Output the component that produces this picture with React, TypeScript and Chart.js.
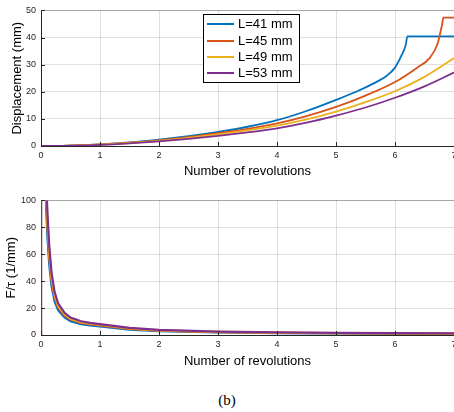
import React, { useEffect, useRef } from "react";
import { Chart, registerables } from "chart.js";
Chart.register(...registerables);

const seriesLabels = ["L=41 mm", "L=45 mm", "L=49 mm", "L=53 mm"];
const seriesColors = ["#0072BD", "#D95319", "#EDB120", "#7E2F8E"];

// Top panel: displacement (mm) vs number of revolutions
const dispX41 = [0, 0.5, 1, 1.5, 2, 2.5, 3, 3.5, 4, 4.5, 5, 5.35, 5.63, 5.86, 6, 6.11, 6.18, 6.21, 7];
const dispY41 = [0, 0.15, 0.6, 1.3, 2.3, 3.6, 5.2, 7.1, 9.5, 12.9, 17.0, 20.1, 23.0, 25.9, 28.9, 33.4, 37.1, 40.4, 40.4];
const dispX45 = [0, 0.5, 1, 1.5, 2, 2.5, 3, 3.5, 4, 4.5, 5, 5.5, 6, 6.37, 6.59, 6.72, 6.76, 6.8, 6.82, 7];
const dispY45 = [0, 0.14, 0.55, 1.2, 2.1, 3.3, 4.7, 6.3, 8.3, 11.0, 14.4, 18.6, 23.6, 28.8, 32.5, 37.6, 41.0, 45.0, 47.3, 47.3];
const dispX49 = [0, 0.5, 1, 1.5, 2, 2.5, 3, 3.5, 4, 4.5, 5, 5.5, 6, 6.5, 7];
const dispY49 = [0, 0.13, 0.5, 1.1, 1.9, 3.0, 4.3, 5.8, 7.5, 9.8, 12.7, 16.2, 20.2, 25.5, 32.4];
const dispX53 = [0, 0.5, 1, 1.5, 2, 2.5, 3, 3.5, 4, 4.5, 5, 5.5, 6, 6.5, 7];
const dispY53 = [0, 0.12, 0.45, 1.0, 1.7, 2.6, 3.7, 5.0, 6.5, 8.6, 11.2, 14.2, 17.8, 22.0, 27.1];

// Bottom panel: F/tau (1/mm) vs number of revolutions
const fX = [0, 0, 0.04, 0.07, 0.09, 0.11, 0.14, 0.18, 0.23, 0.29, 0.4, 0.5, 0.68, 0.83, 1.0, 1.5, 2, 3, 4, 5, 6, 7];
const fY41 = [0, 250, 230, 120, 92, 72, 52, 36, 25, 18.5, 13.0, 10.3, 8.1, 7.1, 6.3, 4.0, 2.9, 1.9, 1.4, 1.1, 0.9, 0.8];
const fY45 = [0, 250, 250, 130, 100, 80, 58, 40, 28, 20.7, 14.6, 11.5, 9.0, 8.0, 7.2, 4.6, 3.3, 2.2, 1.6, 1.3, 1.1, 0.9];
const fY49 = [0, 250, 250, 135, 104, 84, 61, 42, 29.5, 21.8, 15.4, 12.1, 9.5, 8.4, 7.6, 4.9, 3.5, 2.3, 1.7, 1.4, 1.2, 1.0];
const fY53 = [0, 250, 250, 145, 112, 90, 66, 46, 32, 23.5, 16.5, 13.0, 10.2, 9.0, 8.1, 5.3, 3.8, 2.5, 1.9, 1.6, 1.4, 1.2];

const xMin = 0;
const xMax = 7;
const dispMax = 50;
const dispStep = 10;
const fMax = 100;
const fStep = 20;

Chart.defaults.font.family = "'Liberation Sans', Arial, sans-serif";

const zip = (xs: number[], ys: number[]) => xs.map((x, i) => ({ x, y: ys[i] }));

const innerTicks = {
  id: "innerTicks",
  afterDraw(chart: any) {
    const { ctx, chartArea } = chart;
    const { left, bottom } = chartArea;
    const xs = chart.scales.x;
    const ys = chart.scales.y;
    ctx.save();
    ctx.strokeStyle = "#262626";
    ctx.lineWidth = 1;
    ctx.beginPath();
    xs.ticks.forEach((t: any) => {
      const px = Math.round(xs.getPixelForValue(t.value)) + 0.5;
      ctx.moveTo(px, bottom);
      ctx.lineTo(px, bottom - 4);
    });
    ys.ticks.forEach((t: any) => {
      const py = Math.round(ys.getPixelForValue(t.value)) + 0.5;
      ctx.moveTo(left, py);
      ctx.lineTo(left + 4, py);
    });
    ctx.stroke();
    ctx.restore();
  },
};

const boxLegend = {
  id: "boxLegend",
  afterDraw(chart: any) {
    const ctx = chart.ctx;
    ctx.save();
    const bx = 203.5, by = 14.5, bw = 96, bh = 68;
    ctx.fillStyle = "#ffffff";
    ctx.fillRect(bx, by, bw, bh);
    ctx.strokeStyle = "#000000";
    ctx.lineWidth = 1;
    ctx.strokeRect(bx, by, bw, bh);
    const rows = [24, 41, 57, 73];
    ctx.font = "13px 'Liberation Sans', Arial, sans-serif";
    ctx.textBaseline = "middle";
    ctx.textAlign = "left";
    seriesLabels.forEach((lab, i) => {
      ctx.strokeStyle = seriesColors[i];
      ctx.lineWidth = 2;
      ctx.beginPath();
      ctx.moveTo(207, rows[i]);
      ctx.lineTo(234, rows[i]);
      ctx.stroke();
      ctx.fillStyle = "#000000";
      ctx.fillText(lab, 238, rows[i] + 0.5);
    });
    ctx.restore();
  },
};

function makeConfig(
  datasets: any[],
  yMax: number,
  yStep: number,
  yTitle: string,
  yTitlePad: number,
  xTitlePad: number,
  xAxisHeight: number,
  padTop: number,
  interp: boolean,
  lineW: number,
  plugins: any[]
) {
  return {
    type: "line" as const,
    data: {
      datasets: datasets.map((d, i) => ({
        data: d,
        order: datasets.length - 1 - i,
        borderColor: seriesColors[i],
        backgroundColor: seriesColors[i],
        borderWidth: lineW,
        pointRadius: 0,
        fill: false,
        tension: interp ? 0.4 : 0,
        cubicInterpolationMode: interp ? "monotone" : "default",
      })),
    },
    options: {
      responsive: false,
      animation: false,
      layout: { padding: { top: padTop, right: 26, left: 0, bottom: 0 } },
      plugins: { legend: { display: false }, tooltip: { enabled: false } },
      scales: {
        x: {
          type: "linear",
          min: xMin,
          max: xMax,
          ticks: { stepSize: 1, padding: 4, color: "#262626", font: { size: 9 }, maxRotation: 0 },
          grid: { color: "rgba(0,0,0,0.12)", drawTicks: false },
          border: { color: "#262626", width: 1 },
          title: {
            display: true,
            text: "Number of revolutions",
            color: "#000",
            font: { size: 13 },
            padding: { top: 0, bottom: xTitlePad },
          },
          afterFit: (s: any) => {
            s.height = xAxisHeight;
          },
        },
        y: {
          type: "linear",
          min: 0,
          max: yMax,
          ticks: { stepSize: yStep, padding: 5, color: "#262626", font: { size: 9 } },
          grid: {
            color: (c: any) =>
              c.tick && c.tick.value === yMax ? "rgba(0,0,0,0.35)" : "rgba(0,0,0,0.12)",
            drawTicks: false,
          },
          border: { color: "#262626", width: 1 },
          title: {
            display: true,
            text: yTitle,
            color: "#000",
            font: { size: 13 },
            padding: { top: yTitlePad, bottom: 0 },
          },
          afterFit: (s: any) => {
            s.width = 41;
          },
        },
      },
    },
    plugins,
  };
}

export default function App() {
  const topRef = useRef<HTMLCanvasElement>(null);
  const botRef = useRef<HTMLCanvasElement>(null);

  useEffect(() => {
    const top = new Chart(
      topRef.current as HTMLCanvasElement,
      makeConfig(
        [zip(dispX41, dispY41), zip(dispX45, dispY45), zip(dispX49, dispY49), zip(dispX53, dispY53)],
        dispMax,
        dispStep,
        "Displacement (mm)",
        10,
        3,
        36,
        10,
        true,
        1.8,
        [innerTicks, boxLegend]
      ) as any
    );
    const bot = new Chart(
      botRef.current as HTMLCanvasElement,
      makeConfig(
        [zip(fX, fY41), zip(fX, fY45), zip(fX, fY49), zip(fX, fY53)],
        fMax,
        fStep,
        "F/τ (1/mm)",
        3.5,
        1,
        35,
        9,
        false,
        2.2,
        [innerTicks]
      ) as any
    );
    return () => {
      top.destroy();
      bot.destroy();
    };
  }, []);

  return (
    <div style={{ position: "fixed", left: 0, top: 0, width: 480, height: 412, background: "#fff" }}>
      <canvas ref={topRef} width={480} height={182} style={{ position: "absolute", left: 0, top: 0 }} />
      <canvas ref={botRef} width={480} height={180} style={{ position: "absolute", left: 0, top: 190 }} />
      <div
        style={{
          position: "absolute",
          left: 0,
          top: 388,
          width: 454,
          textAlign: "center",
          fontFamily: "'Liberation Serif', 'Times New Roman', serif",
          fontSize: 15,
          lineHeight: "24px",
          color: "#000",
        }}
      >
        (b)
      </div>
    </div>
  );
}
